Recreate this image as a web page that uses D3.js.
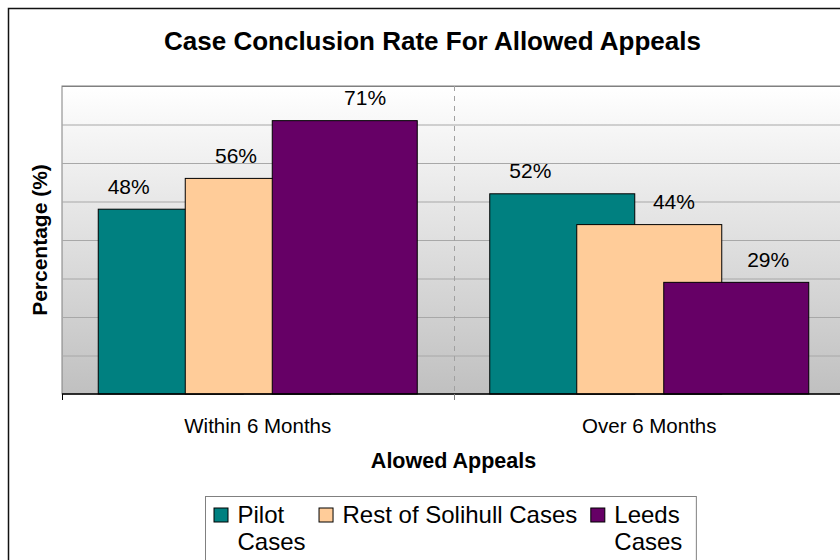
<!DOCTYPE html>
<html>
<head>
<meta charset="utf-8">
<script src="https://cdn.jsdelivr.net/npm/d3@7"></script>
<style>
  body { margin: 0; background: #fff; }
  svg { display: block; font-family: "Liberation Sans", Arial, sans-serif; }
</style>
</head>
<body>
<script>
  // chart values
  var categories = ['Within 6 Months', 'Over 6 Months'];
  var seriesNames = ['Pilot Cases', 'Rest of Solihull Cases', 'Leeds Cases'];
  var legendLines = [['Pilot', 'Cases'], ['Rest of Solihull Cases'], ['Leeds', 'Cases']];
  var pilotValues = [48, 52];
  var restValues = [56, 44];
  var leedsValues = [71, 29];
  var yTicks = [0, 10, 20, 30, 40, 50, 60, 70, 80];

  var seriesValues = [pilotValues, restValues, leedsValues];
  var colors = ['#008080', '#ffcc99', '#660066'];

  var width = 840, height = 560;
  var plot = { left: 62, top: 86, right: 845, bottom: 394 };

  // excel style bar layout
  var gapWidth = 0.5, overlap = 0.4;
  // labels sit a little off centre in the original
  var labelShift = [[-0.29, -0.22], [-0.15, 0.17], [0.14, 0.22]];

  var svg = d3.select('body').append('svg')
    .attr('width', width)
    .attr('height', height);

  var defs = svg.append('defs');
  var grad = defs.append('linearGradient')
    .attr('id', 'plotBg')
    .attr('x1', 0).attr('y1', 0).attr('x2', 0).attr('y2', 1);
  grad.append('stop').attr('offset', '0%').attr('stop-color', '#ffffff');
  grad.append('stop').attr('offset', '100%').attr('stop-color', '#c0c0c0');

  // outer chart border
  svg.append('rect')
    .attr('x', 8.5).attr('y', 8.5)
    .attr('width', 860).attr('height', 600)
    .attr('fill', 'none')
    .attr('stroke', '#111')
    .attr('stroke-width', 1.5);

  var x0 = d3.scaleBand()
    .domain(categories)
    .range([plot.left, plot.right]);

  var y = d3.scaleLinear()
    .domain([0, d3.max(yTicks)])
    .range([plot.bottom, plot.top]);

  var barW = x0.bandwidth() / (1 + (seriesNames.length - 1) * (1 - overlap) + gapWidth);
  var step = barW * (1 - overlap);
  var barX = function(ci, si){
    return x0(categories[ci]) + barW * gapWidth / 2 + si * step;
  };

  // plot area background
  svg.append('rect')
    .attr('x', plot.left).attr('y', plot.top)
    .attr('width', plot.right - plot.left)
    .attr('height', plot.bottom - plot.top)
    .attr('fill', 'url(#plotBg)')
    .attr('stroke', '#808080')
    .attr('stroke-width', 1);

  // horizontal gridlines
  var grid = svg.append('g')
    .attr('transform', 'translate(' + plot.left + ',0)')
    .call(d3.axisLeft(y)
      .tickValues(yTicks.slice(1))
      .tickSize(-(plot.right - plot.left))
      .tickFormat(''));
  grid.select('.domain').remove();
  grid.selectAll('.tick line')
    .attr('stroke', function(d){ return d === d3.max(yTicks) ? '#808080' : '#a8a8a8'; })
    .attr('stroke-width', 1.2);

  // dashed category divider
  svg.append('g').selectAll('line')
    .data(categories.slice(1))
    .enter().append('line')
    .attr('x1', function(d){ return Math.round(x0(d)) + 0.5; })
    .attr('x2', function(d){ return Math.round(x0(d)) + 0.5; })
    .attr('y1', plot.top)
    .attr('y2', plot.bottom)
    .attr('stroke', '#a0a0a0')
    .attr('stroke-dasharray', '5,5');

  // bars, later series drawn over earlier ones
  seriesValues.forEach(function(vals, si){
    svg.append('g').selectAll('rect')
      .data(vals)
      .enter().append('rect')
      .attr('x', function(d, ci){ return barX(ci, si); })
      .attr('y', function(d){ return y(d); })
      .attr('width', barW)
      .attr('height', function(d){ return y(0) - y(d); })
      .attr('fill', colors[si])
      .attr('stroke', '#000')
      .attr('stroke-width', 1);
  });

  // data labels
  seriesValues.forEach(function(vals, si){
    svg.append('g').selectAll('text')
      .data(vals)
      .enter().append('text')
      .attr('x', function(d, ci){ return barX(ci, si) + barW / 2 + labelShift[si][ci] * barW; })
      .attr('y', function(d){ return y(d) - 15.5; })
      .attr('text-anchor', 'middle')
      .attr('font-size', '21px')
      .attr('fill', '#000')
      .text(function(d){ return d + '%'; });
  });

  // category axis
  var xAxis = svg.append('g')
    .attr('transform', 'translate(0,' + plot.bottom + ')')
    .call(d3.axisBottom(x0).tickSize(0).tickPadding(24));
  xAxis.select('.domain').remove();
  xAxis.selectAll('text')
    .attr('font-size', '20.5px')
    .attr('font-family', '"Liberation Sans", Arial, sans-serif')
    .attr('fill', '#000');

  svg.append('line')
    .attr('x1', plot.left).attr('x2', plot.right)
    .attr('y1', plot.bottom).attr('y2', plot.bottom)
    .attr('stroke', '#000')
    .attr('stroke-width', 1.5);

  svg.append('g').selectAll('line')
    .data(categories)
    .enter().append('line')
    .attr('x1', function(d){ return Math.round(x0(d)) + 0.5; })
    .attr('x2', function(d){ return Math.round(x0(d)) + 0.5; })
    .attr('y1', plot.bottom)
    .attr('y2', plot.bottom + 6)
    .attr('stroke', function(d, i){ return i === 0 ? '#000' : '#808080'; });

  // titles
  svg.append('text')
    .attr('x', 432.5).attr('y', 50)
    .attr('text-anchor', 'middle')
    .attr('font-size', '26px')
    .attr('font-weight', 'bold')
    .text('Case Conclusion Rate For Allowed Appeals');

  svg.append('text')
    .attr('x', (plot.left + plot.right) / 2).attr('y', 468)
    .attr('text-anchor', 'middle')
    .attr('font-size', '21.5px')
    .attr('font-weight', 'bold')
    .text('Alowed Appeals');

  svg.append('text')
    .attr('transform', 'translate(47,' + (plot.top + plot.bottom) / 2 + ') rotate(-90)')
    .attr('text-anchor', 'middle')
    .attr('font-size', '21px')
    .attr('font-weight', 'bold')
    .text('Percentage (%)');

  // legend
  var legend = svg.append('g')
    .attr('transform', 'translate(205.5,496.5)');

  var legendBox = legend.append('rect')
    .attr('x', 0).attr('y', 0)
    .attr('height', 100)
    .attr('fill', '#fff')
    .attr('stroke', '#808080');

  var cursor = 8;
  legendLines.forEach(function(lines, si){
    var item = legend.append('g')
      .attr('transform', 'translate(' + cursor + ',0)');
    item.append('rect')
      .attr('x', 0.5).attr('y', 11.5)
      .attr('width', 14).attr('height', 14)
      .attr('fill', colors[si])
      .attr('stroke', '#000');
    var txt = item.append('text')
      .attr('font-size', '24px')
      .attr('fill', '#000');
    lines.forEach(function(line, li){
      txt.append('tspan')
        .attr('x', 24)
        .attr('y', 26 + li * 27)
        .text(line);
    });
    var w = d3.max(txt.selectAll('tspan').nodes(), function(n){ return n.getComputedTextLength(); });
    cursor += 24 + w + 13;
  });
  legendBox.attr('width', cursor + 1);
</script>
</body>
</html>
